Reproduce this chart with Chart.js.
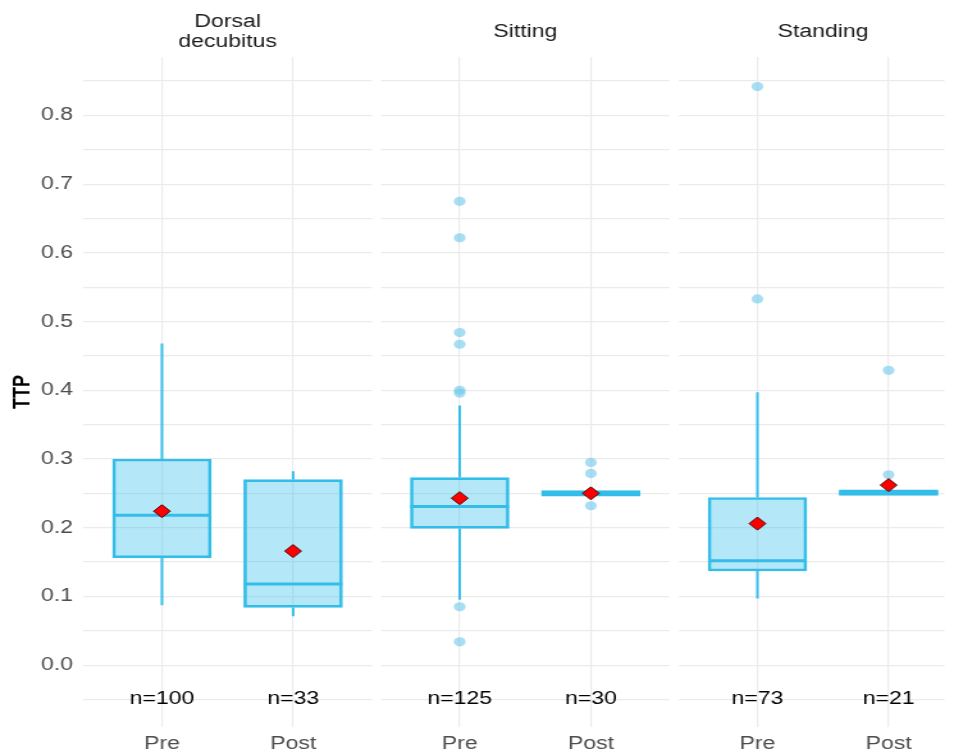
<!DOCTYPE html>
<html>
<head>
<meta charset="utf-8">
<title>TTP by position</title>
<script src="https://cdn.jsdelivr.net/npm/chart.js"></script>
<style>
  html, body { margin: 0; padding: 0; background: #fff; overflow: hidden; }
  /* the source figure is stretched sideways: draw narrow, then widen */
  #wrap { position: absolute; left: 0; top: 0; width: 745px; height: 754px; transform: scaleX(1.2805); transform-origin: 0 0; }
  #chart { display: block; }
</style>
</head>
<body>
<div id="wrap"><canvas id="chart" width="745" height="754"></canvas></div>
<script>
const panels = [['Dorsal', 'decubitus'], ['Sitting'], ['Standing']];
const phases = ['Pre', 'Post'];
const counts = [100, 33, 125, 30, 73, 21];
const q1 = [0.156, 0.084, 0.199, 0.246, 0.137, 0.247];
const medians = [0.218, 0.118, 0.231, 0.250, 0.152, 0.251];
const q3 = [0.300, 0.270, 0.273, 0.254, 0.244, 0.255];
const whiskerLow = [0.087, 0.071, 0.095, 0.246, 0.097, 0.247];
const whiskerHigh = [0.468, 0.282, 0.378, 0.254, 0.397, 0.255];
const means = [0.224, 0.166, 0.243, 0.250, 0.206, 0.262];
const outliers = [
    [],
    [],
    [0.675, 0.622, 0.484, 0.467, 0.400, 0.396, 0.085, 0.034],
    [0.295, 0.279, 0.232],
    [0.842, 0.533],
    [0.429, 0.277]
];
const yTicks = [-0.05, 0, 0.05, 0.1, 0.15, 0.2, 0.25, 0.3, 0.35, 0.4, 0.45, 0.5, 0.55, 0.6, 0.65, 0.7, 0.75, 0.8, 0.85];
const yTickLabels = ['', '0.0', '', '0.1', '', '0.2', '', '0.3', '', '0.4', '', '0.5', '', '0.6', '', '0.7', '', '0.8', ''];

// each facet spans 0.4..2.6 on its own, with a small gap between facets
const panelSpan = 2.2;
const panelGap = 0.07;
const panelStep = panelSpan + panelGap;
const xPos = counts.map((_, i) => Math.floor(i / 2) * panelStep + 1 + (i % 2));

const boxColor = '#35bde9';
const FONT = "'Liberation Sans', Arial, sans-serif";
Chart.defaults.font.family = FONT;

const whiskerData = [];
xPos.forEach((x, i) => {
    whiskerData.push({ x: x, y: whiskerLow[i] }, { x: x, y: q1[i] }, { x: x, y: null });
    whiskerData.push({ x: x, y: q3[i] }, { x: x, y: whiskerHigh[i] }, { x: x, y: null });
});
const outlierData = [];
outliers.forEach((list, i) => list.forEach(v => outlierData.push({ x: xPos[i], y: v })));

const BOX_INDEX = 2;

const panelGaps = {
    id: 'panelGaps',
    beforeDatasetsDraw(chart) {
        const { ctx, chartArea, scales: { x } } = chart;
        ctx.save();
        ctx.fillStyle = '#fff';
        for (let k = 0; k < panels.length - 1; k++) {
            const a = x.getPixelForValue(k * panelStep + 0.4 + panelSpan);
            const b = x.getPixelForValue((k + 1) * panelStep + 0.4);
            ctx.fillRect(a, chartArea.top, b - a, chartArea.bottom - chartArea.top);
        }
        ctx.restore();
    }
};

const medianLines = {
    id: 'medianLines',
    afterDatasetDraw(chart, args) {
        if (args.index !== BOX_INDEX) return;
        const { ctx, scales: { y } } = chart;
        ctx.save();
        ctx.strokeStyle = boxColor;
        ctx.lineWidth = 3;
        args.meta.data.forEach((bar, i) => {
            const { x, width } = bar.getProps(['x', 'width'], true);
            const py = y.getPixelForValue(medians[i]);
            ctx.beginPath();
            ctx.moveTo(x - width / 2, py);
            ctx.lineTo(x + width / 2, py);
            ctx.stroke();
        });
        ctx.restore();
    }
};

const facetText = {
    id: 'facetText',
    afterDraw(chart) {
        const { ctx, scales: { x, y } } = chart;
        ctx.save();
        ctx.textAlign = 'center';
        ctx.textBaseline = 'middle';
        ctx.font = '18px ' + FONT;
        ctx.fillStyle = '#1a1a1a';
        panels.forEach((lines, k) => {
            const cx = x.getPixelForValue(k * panelStep + 1.5);
            const top = 32 - (lines.length - 1) * 10;
            lines.forEach((t, j) => ctx.fillText(t, cx, top + j * 20));
        });
        ctx.fillStyle = '#000';
        counts.forEach((n, i) => {
            ctx.fillText('n=' + n, x.getPixelForValue(xPos[i]), y.getPixelForValue(-0.05));
        });
        ctx.restore();
    }
};

new Chart(document.getElementById('chart'), {
    type: 'bar',
    data: {
        datasets: [{
            type: 'line',
            label: 'Mean',
            data: xPos.map((x, i) => ({ x: x, y: means[i] })),
            showLine: false,
            pointStyle: 'rectRot',
            pointRadius: 6.5,
            pointBackgroundColor: '#ff0000',
            pointBorderColor: '#4a0000',
            pointBorderWidth: 1
        }, {
            type: 'line',
            label: 'Outliers',
            data: outlierData,
            showLine: false,
            pointRadius: 4.6,
            pointBackgroundColor: 'rgba(110,200,235,0.6)',
            pointBorderWidth: 0
        }, {
            label: 'Box',
            data: xPos.map((x, i) => ({ x: x, y: [q1[i], q3[i]] })),
            backgroundColor: 'rgba(41,190,235,0.35)',
            borderColor: boxColor,
            borderWidth: 2,
            borderSkipped: false,
            barThickness: 77,
            grouped: false
        }, {
            type: 'line',
            label: 'Whiskers',
            data: whiskerData,
            borderColor: boxColor,
            borderWidth: 2,
            pointRadius: 0,
            spanGaps: false
        }]
    },
    options: {
        responsive: false,
        animation: false,
        layout: { padding: { top: 57, left: 0, right: 0, bottom: 0 } },
        plugins: {
            legend: { display: false },
            tooltip: { enabled: false }
        },
        scales: {
            x: {
                type: 'linear',
                offset: false,
                min: 0.4,
                max: 6.965,
                afterBuildTicks: s => { s.ticks = xPos.map(v => ({ value: v })); },
                afterFit: s => { s.height = 27; s.paddingLeft = 0; s.paddingRight = 0; },
                ticks: {
                    callback: (v, i) => phases[i % 2],
                    color: '#4d4d4d',
                    font: { size: 18 },
                    padding: 6,
                    autoSkip: false,
                    maxRotation: 0
                },
                grid: { color: '#ebebeb', lineWidth: 1.2, drawTicks: false, offset: false },
                border: { display: false }
            },
            y: {
                min: -0.09,
                max: 0.885,
                afterBuildTicks: s => { s.ticks = yTicks.map(v => ({ value: v })); },
                afterFit: s => { s.width = 65; s.paddingTop = 0; s.paddingBottom = 0; },
                ticks: {
                    callback: (v, i) => yTickLabels[i],
                    color: '#4d4d4d',
                    font: { size: 18 },
                    padding: 8,
                    autoSkip: false
                },
                grid: { color: '#ebebeb', lineWidth: 1.2, drawTicks: false },
                border: { display: false },
                title: {
                    display: true,
                    text: 'TTP',
                    color: '#000',
                    font: { size: 18, weight: 'bold' },
                    padding: { top: 7, bottom: 0 }
                }
            }
        }
    },
    plugins: [panelGaps, medianLines, facetText]
});
</script>
</body>
</html>
